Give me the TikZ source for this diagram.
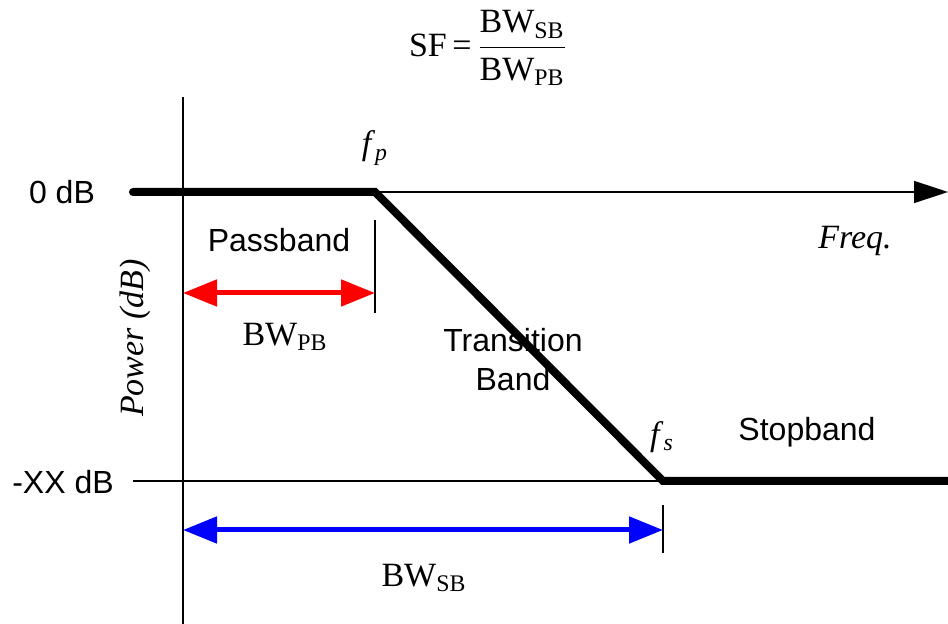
\documentclass[tikz,border=0pt]{standalone}
\usepackage{amsmath}
\usepackage{fontspec}
\setmainfont{Liberation Serif}
\setsansfont{Liberation Sans}
\usetikzlibrary{arrows.meta}
\tikzset{
  lbl/.style={font=\sffamily\fontsize{16}{19.5}\selectfont, align=center},
  tms/.style={font=\fontsize{17}{20}\selectfont},
  thinline/.style={line width=0.75pt},
  resp/.style={line width=4pt, line cap=round},
  bwarrow/.style={line width=2.5pt, {Triangle[length=17pt,width=13pt]}-{Triangle[length=17pt,width=13pt]}}
}

\begin{document}
\begin{tikzpicture}[x=0.5pt, y=-0.5pt]
    \useasboundingbox (0,0) rectangle (948,624);

    \coordinate (axtop) at (183,97);
    \coordinate (axbot) at (183,624);
    \coordinate (start) at (133,192);
    \coordinate (fp) at (375,192);
    \coordinate (fs) at (663,481);
    \coordinate (xend) at (948,192);
    \coordinate (rend) at (948,481);
    \coordinate (xxl) at (133,481);
    \coordinate (pbtop) at (375,220);
    \coordinate (pbbot) at (375,313);
    \coordinate (sbtop) at (663,505);
    \coordinate (sbbot) at (663,553);
    \coordinate (pbl) at (183,293);
    \coordinate (pbr) at (375,293);
    \coordinate (sbl) at (183,530);
    \coordinate (sbr) at (663,530);

    \draw[thinline] (axtop) -- (axbot);
    \draw[thinline, -{Triangle[length=17pt,width=11pt]}] (fp) -- (xend);
    \draw[thinline] (xxl) -- (fs);
    \draw[thinline] (pbtop) -- (pbbot);
    \draw[thinline] (sbtop) -- (sbbot);
    \draw[resp] (start) -- (fp) -- (fs) -- (rend);

    \draw[bwarrow, red] (pbl) -- (pbr);
    \draw[bwarrow, blue] (sbl) -- (sbr);

    \node[tms] (sf) at (488,48) {SF\,=\,$\dfrac{\text{BW\textsubscript{SB}}}{\text{BW\textsubscript{PB}}}$};
    \node[lbl] (zero) at (62,192) {0 dB};
    \node[lbl] (xx) at (63,482) {-XX dB};
    \node[lbl] (pass) at (279,240) {Passband};
    \node[lbl] (trans) at (513,360) {Transition\\Band};
    \node[lbl] (stop) at (807,432) {Stopband};
    \node[tms] (bwpb) at (285,337) {BW\textsubscript{PB}};
    \node[tms] (bwsb) at (424,578) {BW\textsubscript{SB}};
    \node[tms] (flp) at (375,148) {\textit{f}\textsubscript{\textit{p}}};
    \node[tms] (fls) at (662,437) {\textit{f}\textsubscript{\textit{s}}};
    \node[tms] (freq) at (855,241) {\textit{Freq.}};
    \node[tms, rotate=90] (pow) at (135,338) {\textit{Power (dB)}};
\end{tikzpicture}
\end{document}
